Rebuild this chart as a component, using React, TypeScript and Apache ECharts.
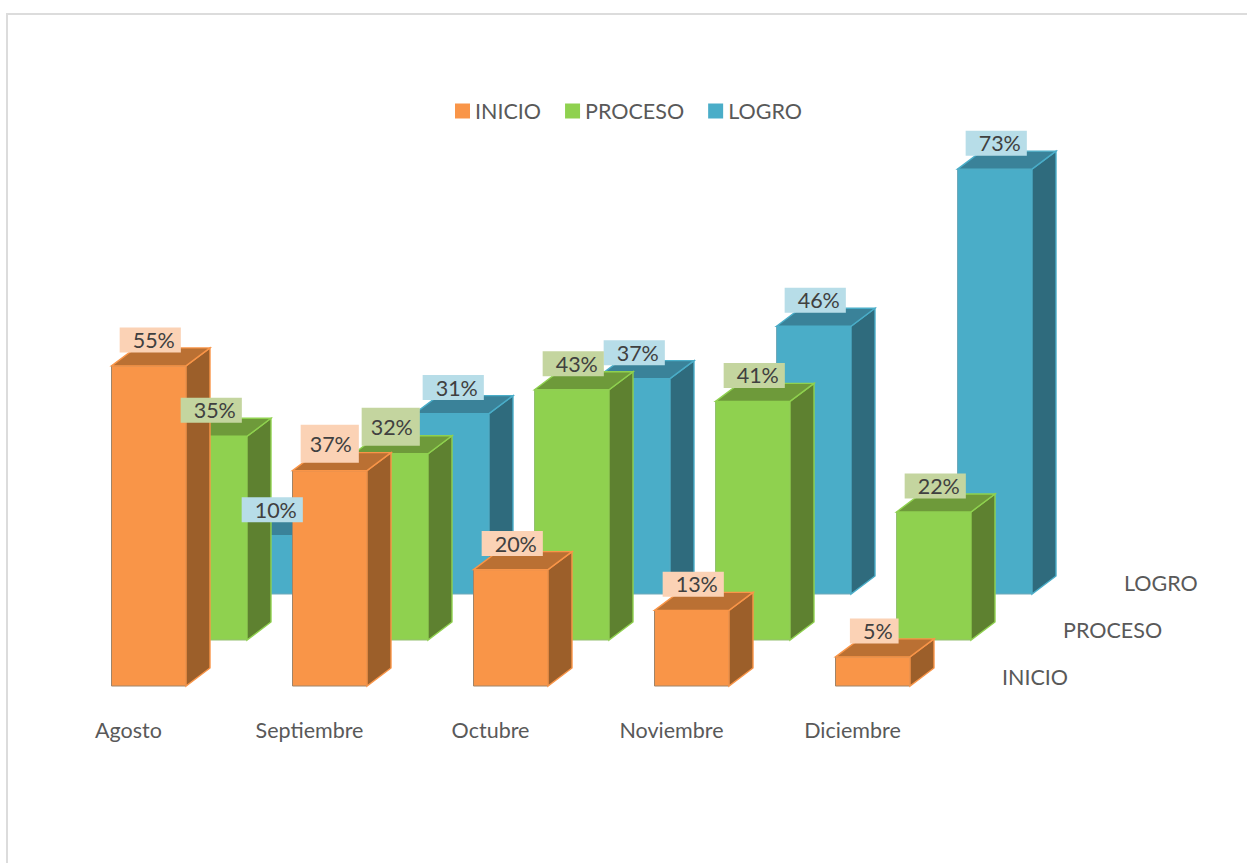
import React, { useEffect, useRef } from "react";
import * as echarts from "echarts";

const months = ["Agosto", "Septiembre", "Octubre", "Noviembre", "Diciembre"];
const inicio = [55, 37, 20, 13, 5];
const proceso = [35, 32, 43, 41, 22];
const logro = [10, 31, 37, 46, 73];
const seriesNames = ["INICIO", "PROCESO", "LOGRO"];

const FONT = "Lato, sans-serif";
const FONT_SIZE = 21.5;
const TEXT = "#595959";

// Pixel geometry of the extruded columns
const BAR_W = 74.5;
const BAR_SHIFT = -17;
const ROW_DX = 61;
const ROW_DY = -46;
const EXTRUDE_X = 24;
const EXTRUDE_Y = -18;

// The front-row September tags sit in a taller box than the others
const TALL_TAG_MONTH = 1;

type Shades = { front: string; side: string; top: string; tag: string; edge: string };

const shades: Record<string, Shades> = {
  INICIO: { front: "#F99548", side: "#9C5F2A", top: "#BA7033", tag: "#FBD2B5", edge: "#A08468" },
  PROCESO: { front: "#8FD14F", side: "#5E8130", top: "#6E9A3A", tag: "#C4D59F", edge: "#93C070" },
  LOGRO: { front: "#4AADC8", side: "#2F6B7D", top: "#3A8299", tag: "#B7DDE8", edge: "#6FA9BA" },
};

const columnRenderer = (name: string, row: number) => (_params: any, api: any) => {
  const c = shades[name];
  const month = api.value(0);
  const [cx, yTop] = api.coord([month, api.value(1)]);
  const [, yBase] = api.coord([month, 0]);
  const x0 = cx + BAR_SHIFT + row * ROW_DX;
  const x1 = x0 + BAR_W;
  const top = yTop + row * ROW_DY;
  const base = yBase + row * ROW_DY;
  const z = (2 - row) * 10;
  const tall = month === TALL_TAG_MONTH && row < 2;
  return {
    type: "group",
    children: [
      {
        type: "rect",
        z2: z,
        shape: { x: x0, y: top, width: BAR_W, height: base - top },
        style: { fill: c.front, stroke: c.edge, lineWidth: 1 },
      },
      {
        type: "polygon",
        z2: z + 1,
        shape: {
          points: [
            [x1, top],
            [x1 + EXTRUDE_X, top + EXTRUDE_Y],
            [x1 + EXTRUDE_X, base + EXTRUDE_Y],
            [x1, base],
          ],
        },
        style: { fill: c.side, stroke: c.front, lineWidth: 1.4 },
      },
      {
        type: "polygon",
        z2: z + 1,
        shape: {
          points: [
            [x0, top],
            [x0 + EXTRUDE_X, top + EXTRUDE_Y],
            [x1 + EXTRUDE_X, top + EXTRUDE_Y],
            [x1, top],
          ],
        },
        style: { fill: c.top, stroke: c.front, lineWidth: 1.4 },
      },
      {
        type: "text",
        z2: 100,
        x: x0 + BAR_W / 2 + (tall ? 0 : 1.5),
        y: top - (tall ? 27 : 26),
        style: {
          text: `${api.value(1)}%`,
          font: `${FONT_SIZE}px ${FONT}`,
          fill: "#404040",
          align: "center",
          verticalAlign: "middle",
          backgroundColor: c.tag,
          lineHeight: 25,
          padding: tall ? [6.5, 7, 6.5, 9] : [0, 6, 0, 13],
        },
      },
    ],
  };
};

const columnSeries = (name: string, row: number, values: number[]) => ({
  type: "custom",
  name,
  clip: false,
  renderItem: columnRenderer(name, row),
  encode: { x: 0, y: 1 },
  itemStyle: { color: shades[name].front },
  data: values.map((v, i) => [i, v]),
});

const rowLabel = (text: string, left: number, middle: number) => ({
  type: "text",
  x: left,
  y: middle,
  style: {
    text,
    font: `${FONT_SIZE}px ${FONT}`,
    fill: TEXT,
    verticalAlign: "middle",
  },
});

export default function App() {
  const ref = useRef<HTMLDivElement>(null);

  useEffect(() => {
    const chart = echarts.init(ref.current!, null, { renderer: "svg" });
    chart.setOption({
      animation: false,
      backgroundColor: "#ffffff",
      grid: { left: 38, width: 905, top: 104, height: 582 },
      xAxis: {
        type: "category",
        data: months,
        axisLine: { show: false },
        axisTick: { show: false },
        axisLabel: { color: TEXT, fontFamily: FONT, fontSize: FONT_SIZE, margin: 33, interval: 0 },
      },
      yAxis: { type: "value", min: 0, max: 100, show: false },
      legend: {
        data: seriesNames,
        left: 450,
        top: 95,
        icon: "rect",
        itemWidth: 15,
        itemHeight: 15,
        itemGap: 24,
        textStyle: { color: TEXT, fontFamily: FONT, fontSize: FONT_SIZE },
        selectedMode: false,
      },
      graphic: [
        {
          type: "polyline",
          shape: { points: [[7, 870], [7, 14], [1255, 14]] },
          style: { stroke: "#dcdcdc", lineWidth: 2, fill: "none" },
        },
        rowLabel(seriesNames[0], 1002, 677),
        rowLabel(seriesNames[1], 1063, 630),
        rowLabel(seriesNames[2], 1124, 583),
      ],
      series: [
        columnSeries("LOGRO", 2, logro),
        columnSeries("PROCESO", 1, proceso),
        columnSeries("INICIO", 0, inicio),
      ],
    });
    return () => chart.dispose();
  }, []);

  return (
    <div
      ref={ref}
      style={{ position: "fixed", left: 0, top: 0, width: 1247, height: 863 }}
    />
  );
}
